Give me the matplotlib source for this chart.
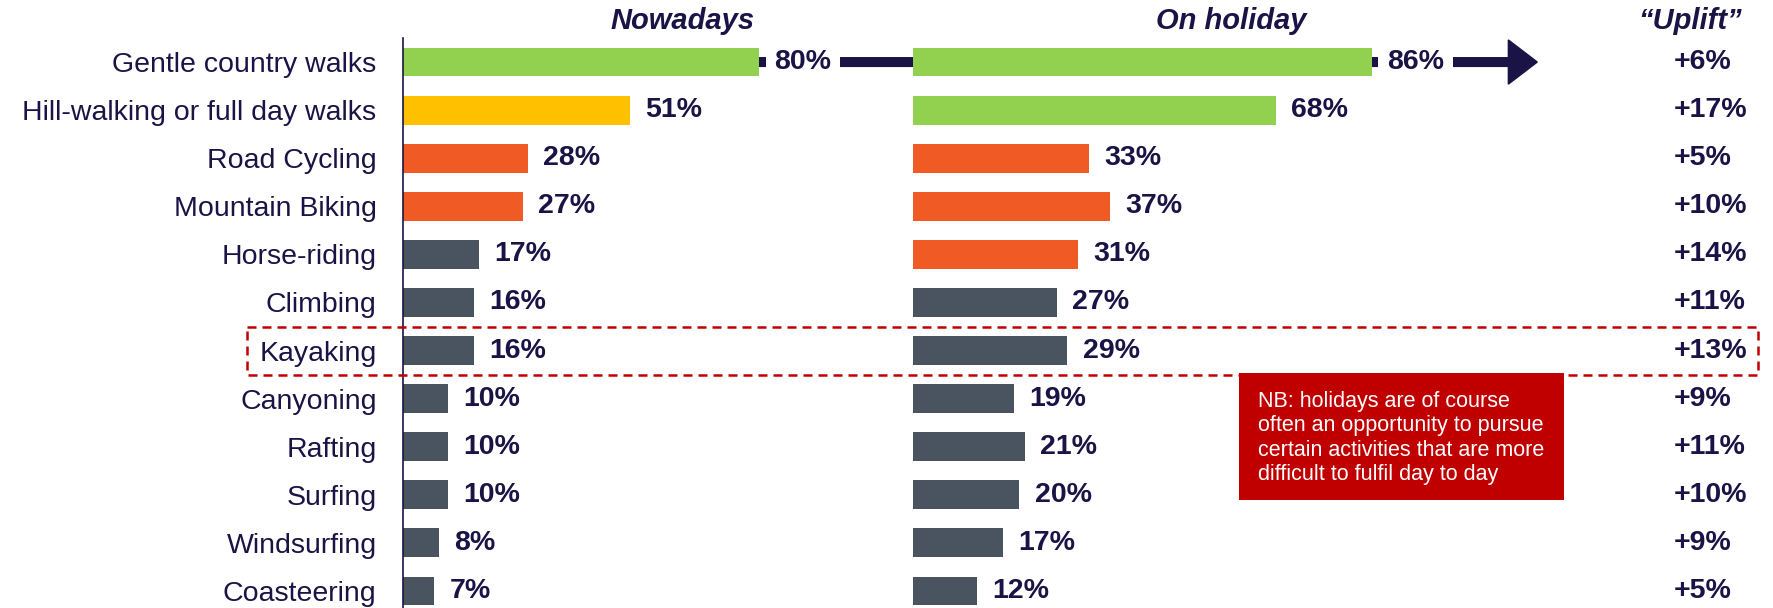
import matplotlib
matplotlib.use('Agg')
import matplotlib.pyplot as plt
from matplotlib import transforms, font_manager
from matplotlib.patches import Rectangle, FancyArrow

plt.rcParams['font.family'] = ['Liberation Sans', 'DejaVu Sans']

# data
activities = ['Gentle country walks', 'Hill-walking or full day walks', 'Road Cycling',
              'Mountain Biking', 'Horse-riding', 'Climbing', 'Kayaking', 'Canyoning',
              'Rafting', 'Surfing', 'Windsurfing', 'Coasteering']
nowadays = [80, 51, 28, 27, 17, 16, 16, 10, 10, 10, 8, 7]
holiday = [86, 68, 33, 37, 31, 27, 29, 19, 21, 20, 17, 12]
uplift = [6, 17, 5, 10, 14, 11, 13, 9, 11, 10, 9, 5]
highlight = 'Kayaking'
note = ('NB: holidays are of course\noften an opportunity to pursue\n'
        'certain activities that are more\ndifficult to fulfil day to day')

NAVY = '#1a1446'
GREEN = '#92d050'
YELLOW = '#ffc000'
ORANGE = '#f05a24'
GREY = '#4a5460'
RED = '#c00000'

now_colors = [GREEN, YELLOW, ORANGE, ORANGE] + [GREY] * 8
hol_colors = [GREEN, GREEN, ORANGE, ORANGE, ORANGE] + [GREY] * 7

# the chart text is set in a narrow face; use one if it is installed
installed = {f.name for f in font_manager.fontManager.ttflist}
if 'Liberation Sans Narrow' in installed:
    LABEL_FONT = ['Liberation Sans Narrow', 'Liberation Sans']
    FS = 25
else:
    LABEL_FONT = ['Liberation Sans', 'DejaVu Sans']
    FS = 20.5

W, H = 1773, 608
fig = plt.figure(figsize=(W / 100, H / 100), dpi=100)


def px_box(left, width):
    # pixel extents -> figure fraction, rows span 38..615 px from the top
    return [left / W, (H - 615) / H, width / W, 577 / H]


ax_now = fig.add_axes(px_box(403, 445))
ax_hol = fig.add_axes(px_box(912.5, 534))

rows = list(range(len(activities)))
ax_now.barh(rows, nowadays, height=0.6, color=now_colors, zorder=2)
ax_hol.barh(rows, holiday, height=0.6, color=hol_colors, zorder=2)

for ax in (ax_now, ax_hol):
    ax.set_xlim(0, 100)
    ax.set_ylim(len(activities) - 0.5, -0.5)
    ax.patch.set_visible(False)
    for s in ax.spines.values():
        s.set_visible(False)
    ax.set_xticks([])

ax_now.spines['left'].set_visible(True)
ax_now.spines['left'].set_color(NAVY)
ax_now.spines['left'].set_linewidth(1.2)
ax_now.set_yticks(rows, activities)
ax_now.tick_params(axis='y', length=0, pad=19, labelcolor=NAVY)
for t in ax_now.get_yticklabels():
    t.set_family(LABEL_FONT)
    t.set_fontsize(FS)
ax_hol.set_yticks([])

# value labels
for ax, vals in ((ax_now, nowadays), (ax_hol, holiday)):
    for i, v in enumerate(vals):
        box = dict(boxstyle='square,pad=0.3', fc='white', ec='none') if i == 0 else None
        ax.annotate(f'{v}%', (v, i), xytext=(11, 0), textcoords='offset points',
                    ha='left', va='center', fontsize=FS, fontweight='bold',
                    family=LABEL_FONT, color=NAVY, bbox=box, zorder=3)

# big arrow for the top row, running under both bars
tip_disp = ax_hol.transData.transform((holiday[0] + 31, 0))
tip_x = ax_now.transData.inverted().transform(tip_disp)[0]
arrow = FancyArrow(nowadays[0], 0, tip_x - nowadays[0], 0, width=0.18, head_width=0.92,
                   head_length=6.5, length_includes_head=True, color=NAVY,
                   zorder=1, clip_on=False)
ax_now.add_patch(arrow)

# column headers and uplift column
now_bt = transforms.blended_transform_factory(fig.transFigure, ax_now.transData)
hol_bt = transforms.blended_transform_factory(fig.transFigure, ax_hol.transData)
head_kw = dict(ha='center', va='center', fontsize=FS + 0.5, fontweight='bold',
               style='italic', family=LABEL_FONT, color=NAVY, clip_on=False)
ax_now.text(683 / W, -0.85, 'Nowadays', transform=now_bt, **head_kw)
ax_hol.text(1231 / W, -0.85, 'On holiday', transform=hol_bt, **head_kw)
ax_hol.text(1690 / W, -0.85, '\u201cUplift\u201d', transform=hol_bt, **head_kw)

for i, u in enumerate(uplift):
    ax_hol.text(1674 / W, i, f'+{u}%', transform=hol_bt, ha='left', va='center',
                fontsize=FS, fontweight='bold', family=LABEL_FONT, color=NAVY,
                clip_on=False)

# dashed highlight round one row
k = activities.index(highlight)
fig.add_artist(Rectangle((246.5 / W, k - 0.5), (1758 - 246.5) / W, 1.0,
                         transform=now_bt, fill=False, ec=RED, lw=1.8,
                         ls=(0, (3.6, 2.4)), zorder=2))

# note box
fig.add_artist(Rectangle((1239 / W, (H - 500) / H), 325 / W, 127 / H,
                         transform=fig.transFigure, fc=RED, ec='none', zorder=3))
fig.text(1258 / W, (H - 438) / H, note, ha='left', va='center', fontsize=15.5,
         color='white', linespacing=1.19, zorder=4)

fig.savefig('out.png', dpi=100)
